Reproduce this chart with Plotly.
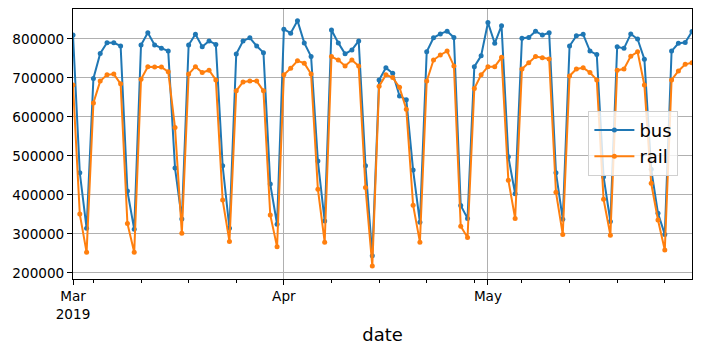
import pandas as pd
import plotly.graph_objects as go

dates = pd.date_range("2019-03-01", "2019-05-31", freq="D")

bus = [
    # March
    810000, 457000, 314600, 699000, 763000, 790500, 790500, 782000, 410000, 312000,
    784600, 816000, 784600, 776000, 769000, 469000, 338500, 784600, 812000, 780000,
    795000, 786000, 475000, 314600, 761500, 795000, 803000, 782000, 765000, 428000,
    325000,
    # April
    825000, 815000, 847000, 790000, 755000, 487000, 333000, 823000, 790000, 762000,
    772000, 795000, 475000, 244000, 695000, 726000, 712000, 654000, 644000, 464000,
    330000, 767000, 803000, 813000, 820000, 804000, 373000, 340000, 729000, 757000,
    # May
    842000, 789000, 834000, 498000, 403000, 802000, 804000, 820000, 810000, 816000,
    457000, 338000, 782000, 808000, 812000, 769000, 760000, 447000, 332000, 780000,
    776000, 813000, 800000, 748000, 466000, 353000, 299000, 769000, 789000, 791000,
    819000,
]

rail = [
    # March
    682000, 351000, 253000, 636000, 692000, 708000, 710000, 685000, 327000, 253000,
    697000, 729000, 728000, 728000, 716000, 573000, 302000, 710000, 729000, 714000,
    720000, 695000, 387000, 281000, 667000, 690000, 692000, 692000, 667000, 349000,
    267000,
    # April
    708000, 725000, 744000, 738000, 710000, 415000, 279000, 755000, 746000, 731000,
    746000, 731000, 419000, 218000, 679000, 708000, 701000, 676000, 620000, 374000,
    279000, 692000, 746000, 759000, 769000, 731000, 320000, 291000, 673000, 708000,
    # May
    729000, 729000, 753000, 438000, 340000, 723000, 739000, 755000, 752000, 749000,
    407000, 299000, 705000, 723000, 726000, 714000, 695000, 389000, 297000, 720000,
    723000, 756000, 767000, 682000, 430000, 336000, 259000, 695000, 718000, 735000,
    739000,
]

x_tickvals = ["2019-03-01", "2019-04-01", "2019-05-01"]
x_ticktext = ["Mar<br>2019", "Apr", "May"]
y_tickvals = [200000, 300000, 400000, 500000, 600000, 700000, 800000]

FONT = "DejaVu Sans"

fig = go.Figure()
fig.add_trace(go.Scatter(x=dates, y=bus, name="bus", mode="lines+markers",
                         line=dict(color="#1f77b4", width=2),
                         marker=dict(color="#1f77b4", size=5)))
fig.add_trace(go.Scatter(x=dates, y=rail, name="rail", mode="lines+markers",
                         line=dict(color="#ff7f0e", width=2),
                         marker=dict(color="#ff7f0e", size=5)))

fig.update_layout(
    width=702, height=353,
    margin=dict(l=72.5, r=10.3, t=9.3, b=73.7),
    paper_bgcolor="white", plot_bgcolor="white",
    font=dict(family=FONT, size=13.6, color="black"),
    legend=dict(x=0.978, xanchor="right", y=0.503, yanchor="middle",
                bgcolor="rgba(255,255,255,0.8)", bordercolor="#d0d0d0", borderwidth=1,
                font=dict(size=18, family=FONT), itemwidth=40, tracegroupgap=0),
    xaxis=dict(
        type="date",
        range=["2019-03-01", "2019-05-31"],
        tickmode="array", tickvals=x_tickvals, ticktext=x_ticktext,
        ticks="outside", ticklen=5, tickwidth=1, tickcolor="black",
        showgrid=True, gridcolor="#b0b0b0", gridwidth=1,
        showline=True, linecolor="black", linewidth=1, mirror=True,
        zeroline=False,
        title=dict(text="date", font=dict(size=18, family=FONT), standoff=7),
        minor=dict(tick0="2019-03-04", dtick=7 * 86400000, ticks="outside",
                   ticklen=3, tickwidth=1, tickcolor="black", showgrid=False),
    ),
    yaxis=dict(
        range=[184600, 876900],
        tickmode="array", tickvals=y_tickvals, tickformat="d",
        ticks="outside", ticklen=5, tickwidth=1, tickcolor="black",
        showgrid=True, gridcolor="#b0b0b0", gridwidth=1,
        showline=True, linecolor="black", linewidth=1, mirror=True,
        zeroline=False,
    ),
)

fig.write_html("out.html")
